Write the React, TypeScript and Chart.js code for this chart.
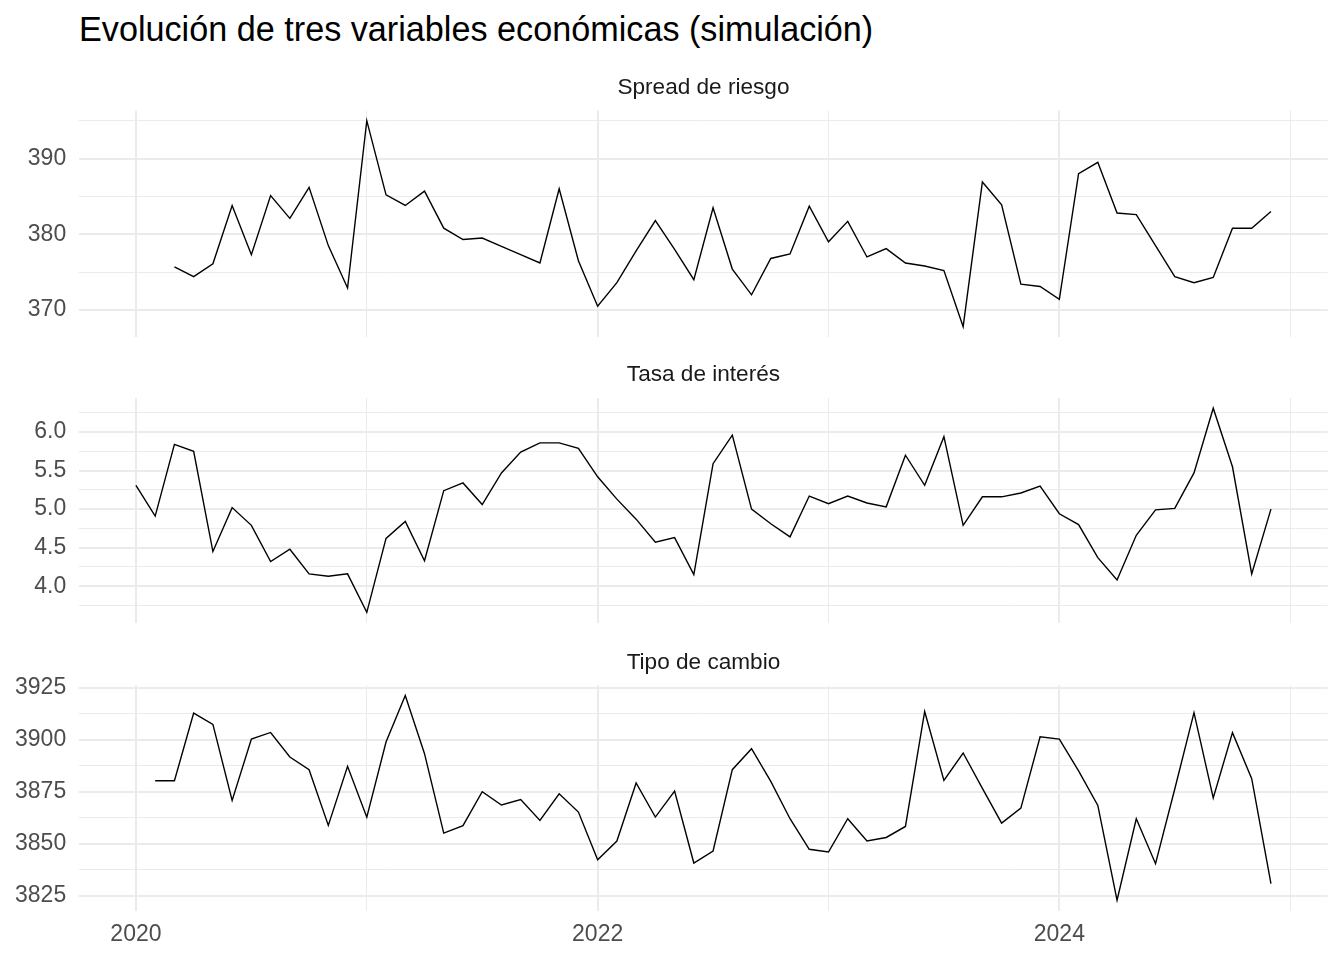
import React, { useEffect, useRef } from "react";
import { Chart, registerables } from "chart.js";

Chart.register(...registerables);

const FONT = "'Liberation Sans', Arial, sans-serif";

// Monthly observations, Jan 2020 .. Dec 2024
const startYear = 2020;
const monthCount = 60;

const spreadValues: (number | null)[] = [
  null, null, 375.7, 374.4, 376.1, 383.8, 377.3, 385.1, 382.1, 386.2, 378.5, 372.9,
  395.0, 385.2, 383.8, 385.7, 380.8, 379.3, 379.5, 378.4, 377.3, 376.2, 386.0, 376.5,
  370.5, 373.6, 377.8, 381.8, 378.0, 374.0, 383.5, 375.4, 372.0, 376.8, 377.4, 383.7,
  379.0, 381.7, 377.0, 378.1, 376.2, 375.8, 375.2, 367.8, 386.9, 383.9, 373.4, 373.1,
  371.4, 388.0, 389.5, 382.8, 382.6, 378.5, 374.4, 373.6, 374.3, 380.8, 380.8, 383.0,
];

const tasaValues: (number | null)[] = [
  5.31, 4.91, 5.84, 5.75, 4.45, 5.02, 4.79, 4.32, 4.48, 4.16, 4.13, 4.16,
  3.66, 4.62, 4.84, 4.33, 5.24, 5.34, 5.06, 5.47, 5.74, 5.86, 5.86, 5.79,
  5.42, 5.13, 4.87, 4.57, 4.63, 4.15, 5.59, 5.96, 5.00, 4.81, 4.64, 5.17,
  5.07, 5.17, 5.08, 5.03, 5.70, 5.31, 5.94, 4.79, 5.16, 5.16, 5.21, 5.30,
  4.94, 4.80, 4.37, 4.08, 4.66, 4.99, 5.01, 5.47, 6.31, 5.55, 4.16, 5.00,
];

const tipoValues: (number | null)[] = [
  null, 3880.3, 3880.3, 3912.8, 3907.4, 3870.8, 3900.3, 3903.5, 3891.7, 3885.6, 3858.8, 3887.2,
  3862.7, 3898.9, 3921.3, 3893.3, 3855.1, 3858.7, 3875.0, 3868.6, 3871.2, 3861.2, 3874.0, 3865.2,
  3842.3, 3851.3, 3879.2, 3862.8, 3875.3, 3840.7, 3846.5, 3885.6, 3895.7, 3880.0, 3862.0, 3847.3,
  3846.0, 3862.0, 3851.3, 3853.0, 3858.3, 3913.6, 3880.4, 3893.6, 3876.6, 3859.9, 3867.1, 3901.4,
  3900.3, 3885.0, 3868.4, 3822.8, 3862.0, 3840.4, 3876.3, 3913.0, 3872.0, 3903.4, 3881.3, 3830.8,
];

const spreadMajor = [370, 380, 390];
const spreadMinor = [375, 385, 395];
const tasaMajor = [4.0, 4.5, 5.0, 5.5, 6.0];
const tasaMinor = [3.75, 4.25, 4.75, 5.25, 5.75, 6.25];
const tipoMajor = [3825, 3850, 3875, 3900, 3925];
const tipoMinor = [3837.5, 3862.5, 3887.5, 3912.5];
const xMajor = [2020, 2022, 2024];
const xMinor = [2021, 2023, 2025];

const mainTitle = "Evolución de tres variables económicas (simulación)";
const stripTitles = ["Spread de riesgo", "Tasa de interés", "Tipo de cambio"];

type PanelSpec = {
  title: string;
  values: (number | null)[];
  major: number[];
  minor: number[];
  decimals: number;
  showX: boolean;
  canvasTop: number;
  canvasHeight: number;
  padTop: number;
  padBottom: number;
};

const panels: PanelSpec[] = [
  { title: stripTitles[0], values: spreadValues, major: spreadMajor, minor: spreadMinor, decimals: 0, showX: false, canvasTop: 58, canvasHeight: 282, padTop: 15.94, padBottom: 3.1 },
  { title: stripTitles[1], values: tasaValues, major: tasaMajor, minor: tasaMinor, decimals: 1, showX: false, canvasTop: 346, canvasHeight: 280, padTop: 15.54, padBottom: 3.4 },
  { title: stripTitles[2], values: tipoValues, major: tipoMajor, minor: tipoMinor, decimals: 0, showX: true, canvasTop: 633, canvasHeight: 327, padTop: 15.74, padBottom: 9.5 },
];

const isIn = (arr: number[], v: number) => arr.some((a) => Math.abs(a - v) < 1e-9);

function Panel({ spec }: { spec: PanelSpec }) {
  const ref = useRef<HTMLCanvasElement>(null);
  useEffect(() => {
    const points = spec.values.map((v, i) => ({ x: startYear + i / 12, y: v as number }));
    const nums = spec.values.filter((v) => v !== null) as number[];
    const lo = Math.min(...nums);
    const hi = Math.max(...nums);
    const r = hi - lo;
    const xSpan = (monthCount - 1) / 12;
    const chart = new Chart(ref.current!, {
      type: "line",
      data: {
        datasets: [
          {
            data: points as any,
            borderColor: "#000000",
            borderWidth: 1.4,
            pointRadius: 0,
            tension: 0,
            spanGaps: false,
            fill: false,
          },
        ],
      },
      options: {
        responsive: false,
        animation: false,
        parsing: false as any,
        layout: { padding: { top: spec.padTop, bottom: spec.padBottom, left: 0, right: 16.3 } },
        plugins: {
          legend: { display: false },
          tooltip: { enabled: false },
          title: {
            display: true,
            text: spec.title,
            color: "#1A1A1A",
            font: { family: FONT, size: 22.6, weight: "normal" as any },
            padding: { top: 0, bottom: 9.34 },
            fullSize: false,
            align: "center",
          },
        },
        scales: {
          x: {
            type: "linear",
            min: startYear - 0.05 * xSpan,
            max: startYear + xSpan + 0.05 * xSpan,
            border: { display: false },
            grid: {
              color: "#EBEBEB",
              drawTicks: false,
              lineWidth: (ctx: any) => (isIn(xMajor, ctx.tick?.value) ? 2 : 1),
            },
            afterBuildTicks: (scale: any) => {
              scale.ticks = [...xMajor, ...xMinor].sort((a, b) => a - b).map((v) => ({ value: v }));
            },
            afterFit: (scale: any) => {
              scale.height = spec.showX ? 40 : 0;
              scale.paddingLeft = 0;
              scale.paddingRight = 0;
            },
            ticks: {
              display: spec.showX,
              autoSkip: false,
              maxRotation: 0,
              padding: 10,
              color: "#4D4D4D",
              font: { family: FONT, size: 23 },
              callback: (v: any) => (isIn(xMajor, Number(v)) ? String(Math.round(Number(v))) : ""),
            },
          },
          y: {
            type: "linear",
            min: lo - 0.05 * r,
            max: hi + 0.05 * r,
            border: { display: false },
            grid: {
              color: "#EBEBEB",
              drawTicks: false,
              lineWidth: (ctx: any) => (isIn(spec.major, ctx.tick?.value) ? 2 : 1),
            },
            afterBuildTicks: (scale: any) => {
              scale.ticks = [...spec.major, ...spec.minor].sort((a, b) => a - b).map((v) => ({ value: v }));
            },
            afterFit: (scale: any) => {
              scale.width = 79.2;
              scale.paddingTop = 0;
              scale.paddingBottom = 0;
            },
            ticks: {
              autoSkip: false,
              padding: 13,
              color: "#4D4D4D",
              font: { family: FONT, size: 23 },
              callback: (v: any) => (isIn(spec.major, Number(v)) ? Number(v).toFixed(spec.decimals) : ""),
            },
          },
        },
      },
    });
    return () => chart.destroy();
  }, [spec]);
  return (
    <canvas
      ref={ref}
      width={1344}
      height={spec.canvasHeight}
      style={{ position: "absolute", left: 0, top: spec.canvasTop, width: 1344, height: spec.canvasHeight }}
    />
  );
}

export default function App() {
  return (
    <div style={{ position: "absolute", left: 0, top: 0, width: 1344, height: 960, background: "#ffffff", overflow: "hidden" }}>
      <div
        style={{
          position: "absolute",
          left: 79,
          top: 12,
          fontFamily: FONT,
          fontSize: 34.2,
          lineHeight: "34px",
          color: "#000000",
          whiteSpace: "nowrap",
        }}
      >
        {mainTitle}
      </div>
      {panels.map((p) => (
        <Panel key={p.title} spec={p} />
      ))}
    </div>
  );
}
